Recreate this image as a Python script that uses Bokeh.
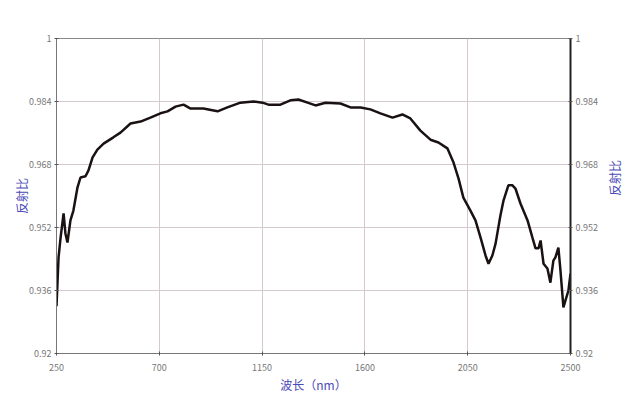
import math
from bokeh.plotting import figure
from bokeh.models import LinearAxis, FixedTicker, Range1d, ColumnDataSource
from bokeh.embed import file_html
from bokeh.resources import INLINE

wavelength = [250, 259, 268, 281, 289, 298, 311, 324, 342, 355, 377, 390, 408, 429, 456, 499, 530,
              574, 618, 661, 705, 736, 771, 806, 837, 893, 955, 998, 1055, 1112, 1152, 1178, 1230,
              1274, 1309, 1349, 1384, 1427, 1493, 1537, 1581, 1624, 1668, 1721, 1764, 1799, 1843,
              1887, 1922, 1961, 1988, 2010, 2031, 2062, 2084, 2106, 2128, 2141, 2158, 2172, 2193,
              2207, 2228, 2246, 2259, 2281, 2312, 2333, 2347, 2360, 2369, 2382, 2399, 2412, 2425,
              2434, 2447, 2456, 2469, 2478, 2491, 2500]
reflectance = [0.9320, 0.9444, 0.9495, 0.9556, 0.9505, 0.9482, 0.9538, 0.9563, 0.9622, 0.9647,
               0.9650, 0.9665, 0.9698, 0.9718, 0.9733, 0.9749, 0.9761, 0.9784, 0.9789, 0.9799,
               0.9810, 0.9815, 0.9827, 0.9832, 0.9822, 0.9822, 0.9815, 0.9825, 0.9837, 0.9840,
               0.9837, 0.9832, 0.9832, 0.9843, 0.9845, 0.9837, 0.9830, 0.9837, 0.9835, 0.9825,
               0.9825, 0.9820, 0.9810, 0.9799, 0.9807, 0.9797, 0.9766, 0.9743, 0.9736, 0.9721,
               0.9685, 0.9644, 0.9596, 0.9563, 0.9538, 0.9495, 0.9449, 0.9428, 0.9449, 0.9479,
               0.9550, 0.9589, 0.9627, 0.9627, 0.9619, 0.9581, 0.9538, 0.9495, 0.9467, 0.9467,
               0.9487, 0.9428, 0.9416, 0.9380, 0.9436, 0.9444, 0.9469, 0.9411, 0.9317, 0.9335,
               0.9360, 0.9403]

x_ticks = [250, 700, 1150, 1600, 2050, 2500]
y_ticks = [0.92, 0.936, 0.952, 0.968, 0.984, 1.0]
y_tick_labels = ["0.92", "0.936", "0.952", "0.968", "0.984", "1"]
x_title = "波长（nm）"
y_title = "反射比"

FONT = "Noto Sans CJK SC"
BLUE = "#4a4ab8"
GRID = "#d6c8cf"
TICKC = "#777777"

p = figure(frame_width=514, frame_height=315, output_backend="svg", toolbar_location=None,
           x_range=Range1d(250, 2500), y_range=Range1d(0.92, 1.0),
           min_border_left=56, min_border_right=40, min_border_top=38, min_border_bottom=40)
p.outline_line_color = "#888888"
p.outline_line_width = 1

src = ColumnDataSource(dict(x=wavelength, y=reflectance))
p.line("x", "y", source=src, line_color="#1a1212", line_width=2.5)

overrides = {t: l for t, l in zip(y_ticks, y_tick_labels)}

p.xaxis.ticker = FixedTicker(ticks=x_ticks)
p.yaxis.ticker = FixedTicker(ticks=y_ticks)
p.yaxis.major_label_overrides = overrides

ra = LinearAxis(ticker=FixedTicker(ticks=y_ticks), major_label_overrides=overrides,
                axis_label=y_title)
p.add_layout(ra, "right")

p.xaxis.axis_label = x_title
p.yaxis.axis_label = y_title

for ax in [p.xaxis[0], p.yaxis[0], ra]:
    ax.major_label_text_font = FONT
    ax.major_label_text_font_size = "9px"
    ax.major_label_text_color = TICKC
    ax.axis_label_text_font = FONT
    ax.axis_label_text_font_size = "12px"
    ax.axis_label_text_font_style = "normal"
    ax.axis_label_text_color = BLUE
    ax.minor_tick_line_color = None
    ax.major_tick_in = 2
    ax.major_tick_out = 2
    ax.major_tick_line_color = "#555555"
    ax.axis_line_color = "#777777"
    ax.major_label_standoff = 3

ra.axis_line_color = "#222222"
ra.axis_line_width = 2
ra.axis_label_orientation = math.pi / 2
p.xaxis.major_label_standoff = 8
p.xaxis.axis_label_standoff = 2
p.yaxis.axis_label_standoff = -4
ra.axis_label_standoff = 14

p.xgrid.grid_line_color = GRID
p.ygrid.grid_line_color = GRID
p.xgrid.ticker = FixedTicker(ticks=x_ticks)
p.ygrid.ticker = FixedTicker(ticks=y_ticks)

open("out.html", "w").write(file_html(p, INLINE))
